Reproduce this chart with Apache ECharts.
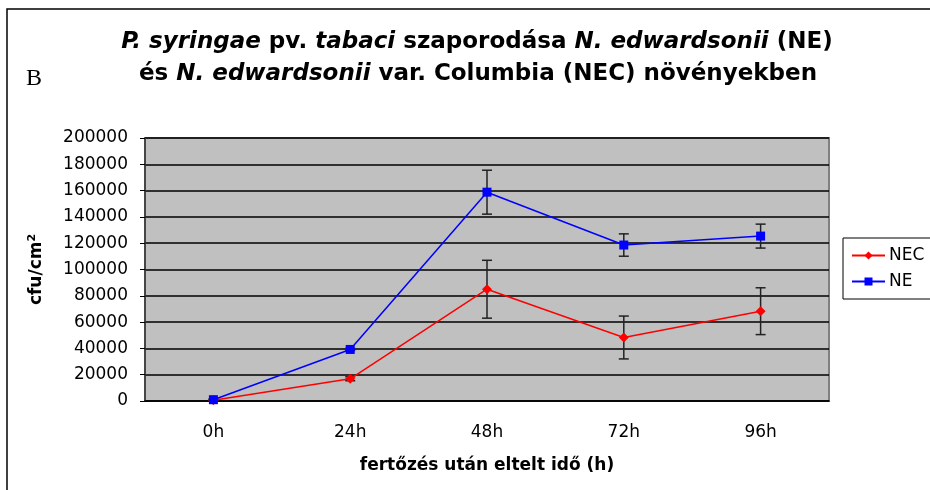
<!DOCTYPE html>
<html>
<head>
<meta charset="utf-8">
<script src="https://cdn.jsdelivr.net/npm/echarts@6/dist/echarts.min.js"></script>
<style>
  html, body { margin: 0; padding: 0; background: #fff; }
  #chart { width: 930px; height: 490px; }
</style>
</head>
<body>
<div id="chart"></div>
<script>
  // adatok
  var categories = ['0h', '24h', '48h', '72h', '96h']
  var neValues = [1000, 39200, 158800, 118600, 125400]
  var neErr = [500, 800, 16700, 8500, 9100]
  var necValues = [500, 16900, 85000, 48300, 68300]
  var necErr = [300, 1500, 22000, 16300, 17800]
  var yTicks = [0, 20000, 40000, 60000, 80000, 100000, 120000, 140000, 160000, 180000, 200000]

  var font = '"DejaVu Sans", Arial, sans-serif'

  function errData (vals, errs) {
    return vals.map(function (v, i) { return [i, v - errs[i], v + errs[i]] })
  }

  // hibasáv rajzolás
  function renderErr (params, api) {
    var lo = api.coord([api.value(0), api.value(1)])
    var hi = api.coord([api.value(0), api.value(2)])
    var w = 5
    var st = { stroke: '#222', lineWidth: 1.5 }
    return {
      type: 'group',
      children: [
        { type: 'line', shape: { x1: lo[0], y1: lo[1], x2: hi[0], y2: hi[1] }, style: st },
        { type: 'line', shape: { x1: lo[0] - w, y1: lo[1], x2: lo[0] + w, y2: lo[1] }, style: st },
        { type: 'line', shape: { x1: hi[0] - w, y1: hi[1], x2: hi[0] + w, y2: hi[1] }, style: st }
      ]
    }
  }

  var titleRich = {
    b: { fontFamily: font, fontSize: 23, fontWeight: 'bold', color: '#000' },
    i: { fontFamily: font, fontSize: 23, fontWeight: 'bold', fontStyle: 'italic', color: '#000' }
  }

  var chart = echarts.init(document.getElementById('chart'))
  chart.setOption({
    animation: false,
    backgroundColor: '#fff',
    graphic: [
      { type: 'rect', shape: { x: 7, y: 9, width: 960, height: 520 }, style: { fill: 'none', stroke: '#000', lineWidth: 1.5 } },
      { type: 'text', x: 477, y: 31, style: { text: '{i|P. syringae}{b| pv. }{i|tabaci}{b| szaporodása }{i|N. edwardsonii}{b| (NE)}', rich: titleRich, textAlign: 'center' } },
      { type: 'text', x: 478, y: 63, style: { text: '{b|és }{i|N. edwardsonii}{b| var. Columbia (NEC) növényekben}', rich: titleRich, textAlign: 'center' } },
      { type: 'text', x: 26, y: 67, style: { text: 'B', font: '24px "Liberation Serif", "Times New Roman", serif', fill: '#000' } }
    ],
    grid: {
      left: 145,
      top: 138,
      right: 101,
      bottom: 89,
      show: true,
      backgroundColor: '#c0c0c0',
      borderColor: '#808080',
      borderWidth: 2
    },
    legend: {
      orient: 'vertical',
      left: 843,
      top: 238,
      data: ['NEC', 'NE'],
      borderColor: '#000',
      borderWidth: 1,
      padding: [9, 8, 9, 8],
      itemGap: 9,
      itemWidth: 33,
      itemHeight: 10,
      textStyle: { fontFamily: font, fontSize: 17, color: '#000', padding: [0, 0, 0, -1] }
    },
    xAxis: {
      type: 'category',
      data: categories,
      boundaryGap: true,
      name: 'fertőzés után eltelt idő (h)',
      nameLocation: 'middle',
      nameGap: 56,
      nameTextStyle: { fontFamily: font, fontSize: 17, fontWeight: 'bold', color: '#000' },
      axisLine: { lineStyle: { color: '#000', width: 1.5 } },
      axisTick: { show: false },
      axisLabel: { fontFamily: font, fontSize: 17, color: '#000', margin: 23 },
      splitLine: { show: false }
    },
    yAxis: {
      type: 'value',
      min: yTicks[0],
      max: yTicks[yTicks.length - 1],
      interval: yTicks[1] - yTicks[0],
      name: 'cfu/cm{sup|2}',
      nameLocation: 'middle',
      nameRotate: 90,
      nameGap: 99,
      nameTextStyle: {
        fontFamily: font, fontSize: 17, fontWeight: 'bold', color: '#000',
        rich: { sup: { fontFamily: font, fontSize: 11, fontWeight: 'bold', verticalAlign: 'top', padding: [0, 0, 8, 0] } }
      },
      axisLine: { show: true, lineStyle: { color: '#333', width: 1.5 } },
      axisTick: { show: true, inside: false, length: 5, lineStyle: { color: '#000' } },
      axisLabel: {
        fontFamily: font, fontSize: 17, color: '#000', margin: 17,
        formatter: function (v) { return String(v) }
      },
      splitLine: { show: true, lineStyle: { color: '#000', width: 1.5 } }
    },
    series: [
      {
        name: 'NEC-err',
        type: 'custom',
        renderItem: renderErr,
        data: errData(necValues, necErr),
        z: 1,
        silent: true
      },
      {
        name: 'NE-err',
        type: 'custom',
        renderItem: renderErr,
        data: errData(neValues, neErr),
        z: 1,
        silent: true
      },
      {
        name: 'NEC',
        type: 'line',
        data: necValues,
        symbol: 'diamond',
        symbolSize: 10,
        lineStyle: { color: '#ff0000', width: 1.5 },
        itemStyle: { color: '#ff0000' },
        z: 3
      },
      {
        name: 'NE',
        type: 'line',
        data: neValues,
        symbol: 'rect',
        symbolSize: 9,
        lineStyle: { color: '#0000ff', width: 1.5 },
        itemStyle: { color: '#0000ff' },
        z: 4
      }
    ]
  })
</script>
</body>
</html>
